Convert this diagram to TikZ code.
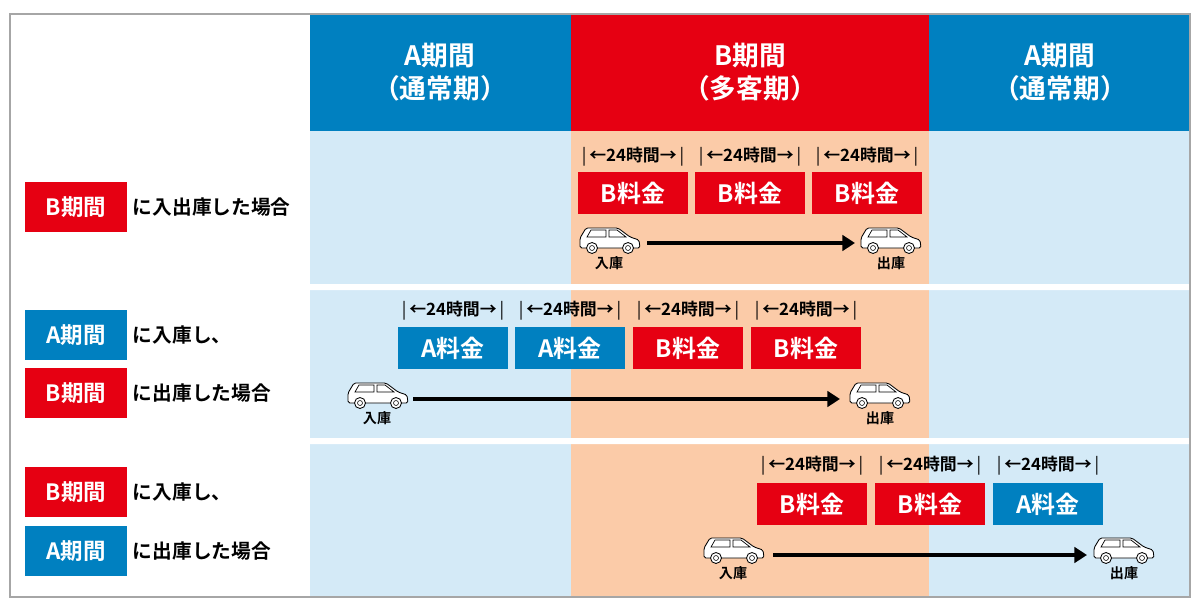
\documentclass[tikz,border=0pt]{standalone}
\usepackage{fontspec}
\setmainfont{Noto Sans CJK JP}[BoldFont={Noto Sans CJK JP Bold}]
\usetikzlibrary{arrows.meta}
\definecolor{ablue}{HTML}{0080C0}
\definecolor{bred}{HTML}{E60012}
\definecolor{lblue}{HTML}{D4EAF7}
\definecolor{lorg}{HTML}{FBCBA8}
\newcommand{\hrs}{{\fontseries{m}\selectfont|}\,←24時間→\,{\fontseries{m}\selectfont|}}
\begin{document}
\begin{tikzpicture}[x=0.025cm,y=-0.025cm,
 fee/.style={minimum width=2.75cm,minimum height=1.07cm,inner sep=0,text=white,font=\bfseries\fontsize{17}{17}\selectfont},
 A/.style={fee,fill=ablue}, B/.style={fee,fill=bred},
 lab/.style={font=\bfseries\fontsize{12}{12}\selectfont},
 side/.style={fee,minimum width=2.57cm,minimum height=1.25cm,font=\bfseries\fontsize{16}{16}\selectfont},
 txt/.style={anchor=west,font=\bfseries\fontsize{14}{14}\selectfont},
 hd/.style={text=white,align=center,font=\bfseries\fontsize{19}{23}\selectfont},
 io/.style={font=\bfseries\fontsize{10}{10}\selectfont},
 arr/.style={line width=3pt,-{Triangle[length=9pt,width=11pt]}},
 car/.pic={\draw[line width=0.6pt,fill=white,rounded corners=1.2pt]
   (-30,8)--(-30,-2)--(-24,-12)--(8,-12)--(20,-3)--(29,0)--(30,8)--cycle;
   \draw[line width=0.5pt] (-23,-3)--(-19,-10)--(-4,-10)--(-4,-3)--cycle (-1,-10)--(7,-10)--(16,-3)--(-1,-3)--cycle;
   \draw[line width=0.6pt,fill=white] (-18,8) circle (5.5) (18,8) circle (5.5);
   \draw[line width=0.4pt] (-18,8) circle (2.5) (18,8) circle (2.5);}]
\useasboundingbox (0,0) rectangle (1200,610);
\fill[white] (0,0) rectangle (1200,610);
\fill[lblue] (310,131) rectangle (1190,597);
\fill[lorg] (571,131) rectangle (929,597);
\fill[white] (310,284) rectangle (1190,290) (310,438) rectangle (1190,444);
\fill[ablue] (310,14) rectangle (571,131);
\fill[bred] (571,14) rectangle (929,131);
\fill[ablue] (929,14) rectangle (1190,131);
\node[hd] (h1) at (440,72) {A期間\\（通常期）};
\node[hd] (h2) at (750,72) {B期間\\（多客期）};
\node[hd] (h3) at (1060,72) {A期間\\（通常期）};
\draw[gray!70,line width=0.8pt] (10,14) rectangle (1190,597);
% row1
\node[side,fill=bred] (s1) at (76,207) {B期間};
\node[txt] (t1) at (128,207) {に入出庫した場合};
\foreach \x/\k [count=\i] in {633/B,750/B,867/B}{
 \node[\k] (r1b\i) at (\x,193) {{\k}料金};
 \node[lab] (r1l\i) at (\x,157) {\hrs};}
\pic (c1a) at (610,240) {car}; \pic (c1b) at (891,240) {car};
\node[io] (i1) at (609,263) {入庫}; \node[io] (o1) at (891,263) {出庫};
\coordinate (a1s) at (647,243); \coordinate (a1e) at (855,243);
\draw[arr] (a1s)--(a1e);
% row2
\node[side,fill=ablue] (s2) at (76,335) {A期間};
\node[txt] (t2) at (128,335) {に入庫し、};
\node[side,fill=bred] (s3) at (76,393) {B期間};
\node[txt] (t3) at (128,393) {に出庫した場合};
\foreach \x/\k [count=\i] in {453/A,570/A,688/B,806/B}{
 \node[\k] (r2b\i) at (\x,348) {{\k}料金};
 \node[lab] (r2l\i) at (\x,311) {\hrs};}
\pic (c2a) at (378,395) {car}; \pic (c2b) at (880,395) {car};
\node[io] (i2) at (377,418) {入庫}; \node[io] (o2) at (880,418) {出庫};
\coordinate (a2s) at (413,399); \coordinate (a2e) at (840,399);
\draw[arr] (a2s)--(a2e);
% row3
\node[side,fill=bred] (s4) at (76,492) {B期間};
\node[txt] (t4) at (128,492) {に入庫し、};
\node[side,fill=ablue] (s5) at (76,551) {A期間};
\node[txt] (t5) at (128,551) {に出庫した場合};
\foreach \x/\k [count=\i] in {812/B,930/B,1048/A}{
 \node[\k] (r3b\i) at (\x,504) {{\k}料金};
 \node[lab] (r3l\i) at (\x,466) {\hrs};}
\pic (c3a) at (734,550) {car}; \pic (c3b) at (1124,550) {car};
\node[io] (i3) at (733,573) {入庫}; \node[io] (o3) at (1124,573) {出庫};
\coordinate (a3s) at (773,555); \coordinate (a3e) at (1087,555);
\draw[arr] (a3s)--(a3e);
\end{tikzpicture}
\end{document}
